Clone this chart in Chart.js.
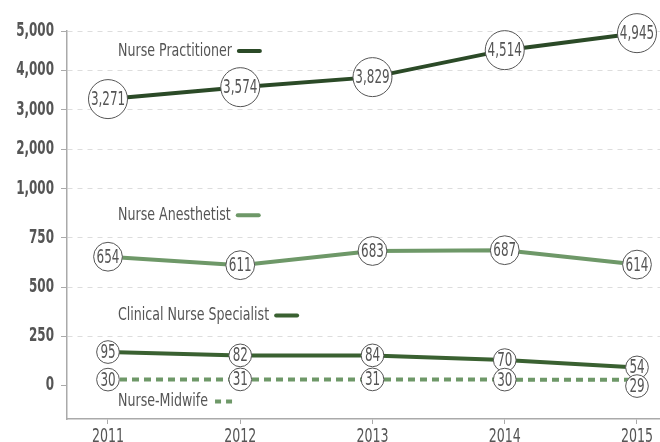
<html><head>
<meta charset="utf-8">
<title>Nurses</title>
<script src="https://cdn.jsdelivr.net/npm/chart.js"></script>
<style>
body { margin: 0; overflow: hidden; background: #fff; }
#wrap { width: 660px; height: 460px; }
</style>
</head>
<body>
<div id="wrap"><canvas id="nurses" width="660" height="460"></canvas></div>
<script>
// values
var years = [2011, 2012, 2013, 2014, 2015];
var practitioner = [3271, 3574, 3829, 4514, 4945];
var anesthetist = [654, 611, 683, 687, 614];
var clinical = [95, 82, 84, 70, 54];
// the clinical line sits higher than its printed numbers in the picture
var clinicalDrawn = [170, 153, 153, 129, 92];
var midwife = [30, 31, 31, 30, 29];
var yTicks = [0, 250, 500, 750, 1000, 2000, 3000, 4000, 5000];

var FONT = '"DejaVu Sans Condensed", "DejaVu Sans", sans-serif';
var GREY = '#555';

// broken axis: 250 per step below 1,000, squeezed above
function squash(v) {
    if (v <= 1000) return v / 250;
    return 4 + (v - 1000) * 0.0008;
}
function fmt(v) {
    return Math.round(v).toLocaleString('en-US');
}

var series = [
    {label: 'Nurse Practitioner', data: practitioner, drawn: practitioner, color: '#2b4a27', dash: [], at: 4490},
    {label: 'Nurse Anesthetist', data: anesthetist, drawn: anesthetist, color: '#6e9868', dash: [], at: 864},
    {label: 'Clinical Nurse Specialist', data: clinical, drawn: clinicalDrawn, color: '#3a6131', dash: [], at: 356},
    {label: 'Nurse-Midwife', data: midwife, drawn: midwife, color: '#6e9868', dash: [7, 5], at: -81}
];

// the font in the picture is condensed, so squeeze text sideways
function narrowText(ctx, txt, x, y, align, font, sx) {
    ctx.save();
    ctx.font = font;
    ctx.translate(x, y);
    ctx.scale(sx, 1);
    ctx.textAlign = align;
    ctx.textBaseline = 'middle';
    ctx.fillText(txt, 0, 0);
    var w = ctx.measureText(txt).width * sx;
    ctx.restore();
    return w;
}
function narrowWidth(ctx, txt, font, sx) {
    ctx.save();
    ctx.font = font;
    var w = ctx.measureText(txt).width * sx;
    ctx.restore();
    return w;
}

var labels = {
    id: 'labels',
    afterDraw: function(chart) {
        var ctx = chart.ctx;
        var xs = chart.scales.x, ys = chart.scales.y;
        ctx.save();
        ctx.fillStyle = GREY;
        yTicks.forEach(function(v) {
            narrowText(ctx, fmt(v), xs.left - 13, ys.getPixelForValue(squash(v)), 'right', 'bold 19px ' + FONT, 0.7);
        });
        years.forEach(function(v) {
            narrowText(ctx, String(v), xs.getPixelForValue(v), 437, 'center', '20px ' + FONT, 0.7);
        });
        ctx.restore();
    },
    afterDatasetsDraw: function(chart) {
        var ctx = chart.ctx;
        var xs = chart.scales.x, ys = chart.scales.y;
        var circleFont = '19px ' + FONT;
        var placed = [];  // circles already drawn, per year
        ctx.save();
        chart.data.datasets.forEach(function(ds, di) {
            var meta = chart.getDatasetMeta(di);
            meta.data.forEach(function(pt, i) {
                var txt = fmt(series[di].data[i]);
                var w = narrowWidth(ctx, txt, circleFont, 0.7);
                var r = Math.sqrt(w * w / 4 + 49) + 1;
                var cy = pt.y;
                // push a label down when it would sit on the one above
                var prev = placed[i];
                if (prev && cy > prev.y && cy - prev.y < prev.r + r - 4) {
                    cy = prev.y + prev.r + r - 4;
                }
                placed[i] = {y: cy, r: r};
                ctx.beginPath();
                ctx.arc(pt.x, cy, r, 0, Math.PI * 2);
                ctx.fillStyle = '#fff';
                ctx.fill();
                ctx.lineWidth = 1;
                ctx.strokeStyle = GREY;
                ctx.stroke();
                ctx.fillStyle = GREY;
                narrowText(ctx, txt, pt.x, cy + 1, 'center', circleFont, 0.7);
            });
        });
        // inline legend
        series.forEach(function(s) {
            var x = xs.left + 51;
            var y = ys.getPixelForValue(squash(s.at));
            ctx.fillStyle = GREY;
            var w = narrowText(ctx, s.label, x, y, 'left', '18px ' + FONT, 0.78);
            ctx.beginPath();
            ctx.setLineDash(s.dash.length ? [6, 5] : []);
            ctx.lineWidth = 4;
            ctx.lineCap = s.dash.length ? 'butt' : 'round';
            ctx.strokeStyle = s.color;
            ctx.moveTo(x + w + 7, y);
            ctx.lineTo(x + w + 28, y);
            ctx.stroke();
        });
        ctx.restore();
    }
};

new Chart(document.getElementById('nurses'), {
    type: 'line',
    data: {
        datasets: series.map(function(s) {
            return {
                label: s.label,
                data: s.drawn.map(function(v, i) { return {x: years[i], y: squash(v)}; }),
                borderColor: s.color,
                borderWidth: 4,
                borderDash: s.dash,
                pointRadius: 0,
                tension: 0,
                fill: false,
                clip: false
            };
        })
    },
    options: {
        responsive: false,
        animation: false,
        layout: {padding: {top: 31, right: 0, left: 0, bottom: 0}},
        plugins: {legend: {display: false}, tooltip: {enabled: false}},
        scales: {
            x: {
                type: 'linear',
                min: 2010.69,
                max: 2015.174,
                afterBuildTicks: function(s) { s.ticks = years.map(function(v) { return {value: v}; }); },
                afterFit: function(s) { s.height = 41; },
                border: {color: '#aaa', width: 1.5},
                grid: {drawOnChartArea: false, tickLength: 5, tickColor: '#aaa'},
                ticks: {display: false}
            },
            y: {
                min: -0.68,
                max: squash(5000),
                afterBuildTicks: function(s) { s.ticks = yTicks.map(function(v) { return {value: squash(v)}; }); },
                afterFit: function(s) { s.width = 67; },
                border: {color: '#aaa', width: 1.5, dash: [5, 5]},
                grid: {
                    color: function(c) { return c.tick && c.tick.value === 0 ? 'rgba(0,0,0,0)' : '#ddd'; },
                    lineWidth: 1,
                    tickLength: 6,
                    tickColor: '#aaa'
                },
                ticks: {display: false}
            }
        }
    },
    plugins: [labels]
});
</script>
</body></html>
